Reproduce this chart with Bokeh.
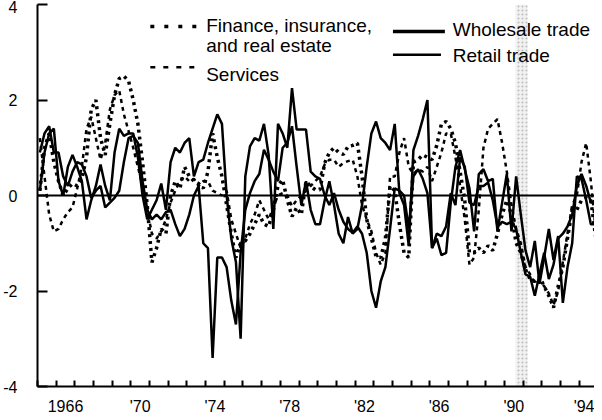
from bokeh.plotting import figure
from bokeh.models import Range1d, FixedTicker, Label, BoxAnnotation, Span
from bokeh.embed import file_html
from bokeh.resources import INLINE

# ---------------- data (quarterly, 1965Q1 - 1994Q4) ----------------
years = list(range(1965, 1995))
quarter_t = [y + (q + 0.5) / 4 for y in years for q in range(4)]

finance = [
    0.1, 1.0, 1.3, 0.7,      # 1965
    0.3, 0.0, 0.15, 0.25,    # 1966
    0.2, 0.35, 0.8, 1.8,     # 1967
    2.0, 1.2, 0.85, 1.5,     # 1968
    2.1, 2.45, 2.5, 2.4,     # 1969
    2.0, 1.5, 0.7, -0.2,     # 1970
    -1.4, -1.1, -0.7, -0.8,  # 1971
    0.0, 0.3, 0.15, 0.6,     # 1972
    0.4, 0.3, 0.25, 0.15,    # 1973
    0.5, 1.3, 0.8, 0.4,      # 1974
    -0.2, -0.8, -1.3, -1.0,  # 1975
    -0.95, -0.8, -0.6, -0.4, # 1976
    -0.6, -0.65, -0.3, 0.2,  # 1977
    0.33, -0.1, -0.44, -0.25,# 1978
    -0.4, 0.3, 0.19, 0.12,   # 1979
    0.12, 0.68, 0.9, 1.0,    # 1980
    0.9, 0.86, 1.03, 1.05,   # 1981
    1.1, 0.4, -0.5, -0.9,    # 1982
    -1.28, -1.3, -0.9, 0.2,  # 1983
    0.1, -0.6, -1.2, -1.3,   # 1984
    0.7, 0.75, 0.85, 0.8,    # 1985
    0.75, 1.05, 1.5, 1.55,   # 1986
    1.4, 1.1, 0.5, -0.1,     # 1987
    -1.2, -1.2, -1.1, -1.2,  # 1988
    -1.05, -1.15, -0.8, -0.4,# 1989
    -0.1, -0.4, -1.0, -1.2,  # 1990
    -1.55, -1.75, -1.8, -1.7,# 1991
    -1.9, -2.1, -2.35, -1.9, # 1992
    -1.5, -0.9, -0.3, -0.3,  # 1993
    -0.1, -0.05, -0.1, -0.85,# 1994
]

services = [
    1.2, 0.4, -0.4, -0.75,   # 1965
    -0.7, -0.5, -0.35, -0.25,# 1966
    0.15, 0.6, 1.4, 1.65,    # 1967
    1.2, 0.75, 1.1, 1.8,     # 1968
    2.1, 2.2, 1.7, 1.35,     # 1969
    1.0, 0.6, 0.2, -0.3,     # 1970
    -0.8, -0.9, -0.75, -0.5, # 1971
    -0.15, 0.1, 0.3, 0.4,    # 1972
    0.3, 0.35, 0.2, 0.3,     # 1973
    0.3, 0.1, 0.05, 0.0,     # 1974
    0.1, -0.5, -0.8, -1.1,   # 1975
    -0.9, -0.6, -0.4, -0.1,  # 1976
    -0.3, -0.5, -0.25, 0.0,  # 1977
    0.05, 0.0, -0.23, -0.1,  # 1978
    0.0, 0.1, 0.2, 0.3,      # 1979
    0.4, 0.65, 0.75, 0.75,   # 1980
    0.6, 0.68, 0.72, 0.75,   # 1981
    0.4, -0.2, -0.5, -0.75,  # 1982
    -1.2, -1.45, -1.2, 0.4,  # 1983
    0.4, 0.9, 1.2, 0.6,      # 1984
    0.45, 0.55, 0.5, 0.6,    # 1985
    0.3, 0.6, 0.9, 1.3,      # 1986
    1.3, 0.8, 0.2, -0.5,     # 1987
    -1.45, -1.3, -0.3, 1.0,  # 1988
    1.4, 1.5, 1.6, 1.1,      # 1989
    0.5, -0.2, -0.7, -1.0,   # 1990
    -1.5, -1.65, -1.85, -1.8,# 1991
    -1.9, -2.05, -2.3, -2.0, # 1992
    -1.4, -0.8, -0.2, 0.0,   # 1993
    0.7, 1.1, 0.3, -0.7,     # 1994
]

wholesale = [
    0.1, 0.9, 1.3, 1.4,      # 1965
    0.3, 0.0, 0.6, 0.85,     # 1966
    0.6, 0.3, -0.5, -0.1,    # 1967
    0.2, 0.65, 0.2, -0.1,    # 1968
    0.9, 1.4, 1.25, 1.3,     # 1969
    1.3, 0.8, 0.0, -0.5,     # 1970
    -0.3, -0.1, 0.25, -0.3,  # 1971
    0.7, 1.0, 0.9, 1.1,      # 1972
    1.2, 0.4, 0.7, 0.75,     # 1973
    1.1, 1.4, 1.7, 1.5,      # 1974
    0.0, -0.9, -1.4, -3.0,   # 1975
    0.4, 1.03, 1.2, 1.15,    # 1976
    1.5, 0.85, -0.7, 1.5,    # 1977
    1.3, 1.0, 2.25, 1.38,    # 1978
    1.38, 1.38, 0.5, 0.4,    # 1979
    0.35, 0.0, -0.2, 0.05,   # 1980
    -0.3, -0.55, -0.7, -0.78,# 1981
    -0.65, -0.8, -1.2, -2.0, # 1982
    -2.35, -1.8, -1.5, -0.7, # 1983
    0.15, 0.1, 0.0, -0.7,    # 1984
    0.4, 0.55, 0.35, 0.05,   # 1985
    -1.1, -0.8, -0.85, -0.65,# 1986
    0.05, -0.2, 0.8, 0.6,    # 1987
    -0.15, -0.2, 0.2, 0.2,   # 1988
    0.27, -0.1, -0.65, -0.55,# 1989
    -0.6, -0.55, -0.7, -1.2, # 1990
    -1.65, -1.7, -2.1, -1.65,# 1991
    -1.2, -1.75, -1.45, -0.9,# 1992
    -0.8, -0.65, -0.4, 0.2,  # 1993
    0.45, 0.2, -0.15, -0.1,  # 1994
]

retail = [
    0.9, 1.3, 1.45, 0.9,     # 1965
    0.9, 0.4, 0.2, 0.5,      # 1966
    0.7, 0.65, 0.4, -0.05,   # 1967
    0.1, 0.2, -0.25, -0.15,  # 1968
    -0.05, 0.1, 0.7, 1.2,    # 1969
    1.25, 1.1, 0.3, -0.3,    # 1970
    -0.5, -0.4, -0.5, -0.35, # 1971
    -0.3, -0.6, -0.85, -0.7, # 1972
    -0.4, 0.0, 0.2, -1.0,    # 1973
    -1.1, -3.4, -1.3, -1.3,  # 1974
    -1.5, -2.2, -2.7, -1.2,  # 1975
    -0.3, 0.05, 0.3, 0.45,   # 1976
    0.96, 0.75, 0.5, 0.3,    # 1977
    1.0, 1.1, 1.45, 0.6,     # 1978
    -0.2, 0.3, -0.3, -0.6,   # 1979
    -0.6, -0.1, 0.3, -0.2,   # 1980
    -0.8, -1.0, -0.45, -0.8, # 1981
    -0.7, -0.2, 0.6, 1.3,    # 1982
    1.55, 1.2, 1.1, 0.95,    # 1983
    1.5, 0.05, -0.2, -1.05,  # 1984
    0.95, 1.25, 1.6, 2.0,    # 1985
    -1.1, -0.9, -1.25, -1.2, # 1986
    -0.15, 0.6, 0.95, 0.55,  # 1987
    0.15, -0.75, 0.45, 0.55, # 1988
    0.3, 0.35, -0.75, -0.15, # 1989
    0.45, -0.75, 0.4, -0.4,  # 1990
    -1.15, -1.5, -0.95, -1.85,# 1991
    -1.3, -0.7, -1.35, -0.85,# 1992
    -2.25, -1.5, -1.0, 0.4,  # 1993
    0.35, -0.1, -0.6, -0.6,  # 1994
]

tick_years = [1966, 1970, 1974, 1978, 1982, 1986, 1990, 1994]
tick_text = ["1966", "'70", "'74", "'78", "'82", "'86", "'90", "'94"]
y_ticks = [-4, -2, 0, 2, 4]
recession = (1990.6, 1991.25)

FONT = "Liberation Sans"

# ---------------- figure ----------------
p = figure(width=594, height=424, output_backend="svg", toolbar_location=None,
           x_range=Range1d(1965, 1994.82), y_range=Range1d(-4, 4),
           min_border_left=36, min_border_right=0, min_border_top=4,
           min_border_bottom=38)
p.outline_line_color = None
p.xgrid.visible = False
p.ygrid.visible = False
p.background_fill_color = "white"

# recession shading (stippled look)
p.add_layout(BoxAnnotation(left=recession[0], right=recession[1],
                           fill_color="#d0d0d0", fill_alpha=0.3,
                           hatch_pattern="dot", hatch_color="#9a9a9a",
                           hatch_scale=4, hatch_alpha=0.6,
                           line_color=None, level="underlay"))

# zero line
p.add_layout(Span(location=0, dimension="width", line_color="black",
                  line_width=2))

# series
p.line(quarter_t, services, line_color="black", line_width=2.5,
       line_dash="4 4")
p.line(quarter_t, finance, line_color="black", line_width=3.5,
       line_dash="3 4")
p.line(quarter_t, retail, line_color="black", line_width=2.5)
p.line(quarter_t, wholesale, line_color="black", line_width=2.5)

# axes
xa = p.xaxis[0]
xa.ticker = FixedTicker(ticks=[y + 0.5 for y in tick_years],
                        minor_ticks=list(range(1965, 1995)))
xa.major_label_overrides = {y + 0.5: s for y, s in zip(tick_years, tick_text)}
xa.major_tick_in = 0
xa.major_tick_out = 0
xa.minor_tick_in = 6
xa.minor_tick_out = 0
xa.minor_tick_line_width = 2
xa.minor_tick_line_color = "black"
xa.axis_line_width = 2
xa.axis_line_color = "black"
xa.major_label_standoff = 11
xa.major_label_text_font = FONT
xa.major_label_text_font_size = "16px"
xa.major_label_text_color = "black"

ya = p.yaxis[0]
ya.ticker = FixedTicker(ticks=y_ticks)
ya.major_label_overrides = {v: str(v) for v in y_ticks}
ya.major_tick_in = 10
ya.major_tick_out = 0
ya.major_tick_line_width = 2
ya.major_tick_line_color = "black"
ya.minor_tick_line_color = None
ya.axis_line_width = 2
ya.axis_line_color = "black"
ya.major_label_standoff = 20
ya.major_label_text_font = FONT
ya.major_label_text_font_size = "16px"
ya.major_label_text_color = "black"

# ---------------- legend (drawn by hand) ----------------
def lab(x, y, txt):
    p.add_layout(Label(x=x, y=y, text=txt, text_font=FONT,
                       text_font_size="19px", text_color="black",
                       text_baseline="alphabetic", text_align="left"))

lab(1974.03, 3.553, "Finance, insurance,")
lab(1974.03, 3.133, "and real estate")
lab(1974.03, 2.537, "Services")
lab(1987.23, 3.469, "Wholesale trade")
lab(1987.23, 2.923, "Retail trade")

p.line([1971.04, 1973.55], [3.538, 3.538], line_color="black",
       line_width=3.5, line_dash="4 10")
p.line([1971.04, 1973.55], [2.688, 2.688], line_color="black",
       line_width=2.5, line_dash="5 8")
p.line([1984.03, 1986.81], [3.433, 3.433], line_color="black", line_width=3.5)
p.line([1984.03, 1986.6], [2.95, 2.95], line_color="black", line_width=2.5)

open("out.html", "w").write(file_html(p, INLINE))
